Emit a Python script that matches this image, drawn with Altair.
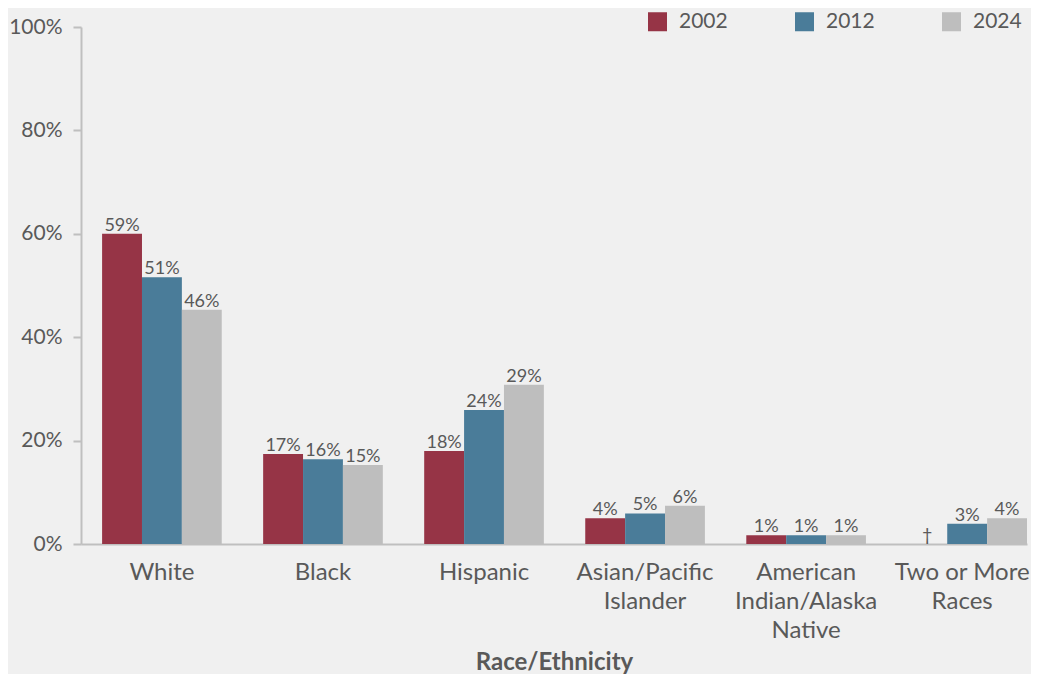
import json
import altair as alt
import pandas as pd

categories = ["White", "Black", "Hispanic", "Asian/Pacific Islander",
              "American Indian/Alaska Native", "Two or More Races"]
category_lines = [["White"], ["Black"], ["Hispanic"], ["Asian/Pacific", "Islander"],
                  ["American", "Indian/Alaska", "Native"], ["Two or More", "Races"]]
years = ["2002", "2012", "2024"]
colors = ["#963446", "#4a7c99", "#bebebe"]

v2002 = [60.0, 17.4, 18.0, 5.0, 1.7, None]
v2012 = [51.6, 16.4, 25.9, 5.9, 1.7, 3.9]
v2024 = [45.3, 15.3, 30.8, 7.4, 1.7, 5.0]

l2002 = ["59%", "17%", "18%", "4%", "1%", "†"]
l2012 = ["51%", "16%", "24%", "5%", "1%", "3%"]
l2024 = ["46%", "15%", "29%", "6%", "1%", "4%"]

y_ticks = [0, 20, 40, 60, 80, 100]

rows = []
for i, c in enumerate(categories):
    for yr, vals, labs in zip(years, [v2002, v2012, v2024], [l2002, l2012, l2024]):
        v = vals[i]
        rows.append(dict(cat=c, year=yr, value=v, label=labs[i],
                         ypos=v if v is not None else 0))
df = pd.DataFrame(rows)

label_expr = ""
for c, lines in zip(categories, category_lines):
    label_expr += f"datum.value === {json.dumps(c)} ? {json.dumps(lines)} : "
label_expr += "datum.label"

TEXT = "#595959"
AXIS = "#bfbfbf"

x_enc = alt.X("cat:N", sort=categories,
              scale=alt.Scale(paddingInner=0.257, paddingOuter=0.0655, align=1),
              axis=alt.Axis(title="Race/Ethnicity", labelAngle=0, labelExpr=label_expr,
                            labelFontSize=24, labelLineHeight=29, labelColor=TEXT,
                            labelOffset={"condition": {"test": f"datum.value === {json.dumps(categories[-1])}",
                                                       "value": -5},
                                         "value": 0},
                            domainColor=AXIS, domainWidth=2, ticks=False,
                            labelPadding=16, titleFontSize=24, titleFontWeight="bold",
                            titleColor=TEXT, titlePadding=8))
xoff = alt.XOffset("year:N", sort=years, scale=alt.Scale(paddingInner=0, paddingOuter=0))

bars = alt.Chart(df).mark_bar().encode(
    x=x_enc,
    xOffset=xoff,
    y=alt.Y("value:Q", scale=alt.Scale(domain=[0, 100], nice=False),
            axis=alt.Axis(values=y_ticks, labelExpr="datum.value + '%'", title=None,
                          grid=False, tickSize=8, tickColor=AXIS, tickWidth=2,
                          domainColor=AXIS, domainWidth=2, labelFontSize=21,
                          labelColor=TEXT, labelPadding=11)),
    color=alt.Color("year:N", sort=years, scale=alt.Scale(domain=years, range=colors),
                    legend=alt.Legend(title=None, orient="none", legendX=566, legendY=-16,
                                      direction="horizontal", symbolType="square",
                                      symbolSize=361, symbolStrokeWidth=0,
                                      labelFontSize=21, labelColor=TEXT, labelOffset=11,
                                      columnPadding=66, padding=0)),
)

texts = alt.Chart(df).mark_text(baseline="alphabetic", dy=-3, fontSize=18, color=TEXT).encode(
    x=alt.X("cat:N", sort=categories),
    xOffset=xoff,
    y=alt.Y("ypos:Q"),
    text="label:N",
)

chart = alt.layer(bars, texts).properties(
    width=946, height=517,
    autosize=alt.AutoSizeParams(type="none"),
    padding={"left": 73, "top": 19, "right": 4, "bottom": 130},
    background="#f0f0f0",
).configure(font="Lato").configure_view(stroke=None)

chart.save("out.html", embed_options={"renderer": "svg", "actions": False})
